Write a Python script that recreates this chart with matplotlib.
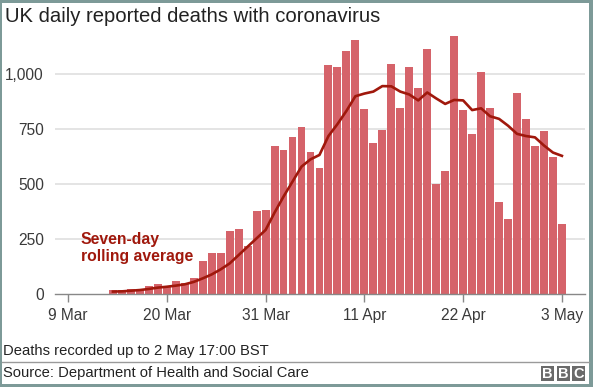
import matplotlib
matplotlib.use("Agg")
import matplotlib.pyplot as plt
import matplotlib.dates as mdates
from matplotlib.patches import Rectangle
import pandas as pd
import datetime as dt

# ---- data ----
dates = pd.date_range("2020-03-14", "2020-05-03", freq="D")
daily_deaths = [18, 18, 23, 23, 36, 45, 33, 58, 49, 74,
                150, 185, 185, 285, 295, 217, 376, 382, 671, 653,
                715, 761, 644, 571, 1041, 1033, 1105, 1153, 839, 686,
                745, 1045, 844, 1030, 935, 1115, 500, 559, 1173, 836,
                729, 1008, 844, 420, 339, 912, 795, 674, 741, 623,
                317]
rolling_avg = [11, 12, 15, 18, 23, 29, 33, 38, 44, 55,
               71, 89, 112, 139, 177, 215, 253, 291, 370, 443,
               511, 579, 612, 632, 718, 772, 832, 899, 911, 920,
               945, 944, 920, 907, 880, 916, 889, 864, 882, 880,
               836, 844, 808, 796, 765, 728, 718, 712, 675, 643,
               628]
x_tick_dates = ["2020-03-09", "2020-03-20", "2020-03-31", "2020-04-11", "2020-04-22", "2020-05-03"]
x_tick_labels = ["9 Mar", "20 Mar", "31 Mar", "11 Apr", "22 Apr", "3 May"]
y_ticks = [0, 250, 500, 750, 1000]
y_tick_labels = ["0", "250", "500", "750", "1,000"]

title = "UK daily reported deaths with coronavirus"
line_label = "Seven-day\nrolling average"
note = "Deaths recorded up to 2 May 17:00 BST"
source = "Source: Department of Health and Social Care"

# ---- style ----
plt.rcParams["font.family"] = ["Liberation Sans", "DejaVu Sans"]
BAR = "#d5636a"
LINE = "#a0180c"
TXT = "#3a3a3a"

W, H = 593, 387
fig = plt.figure(figsize=(W / 100, H / 100), dpi=100)
fig.patch.set_facecolor("#7d9a98")
fig.add_artist(Rectangle((2 / W, 3 / H), 587 / W, 381 / H, transform=fig.transFigure,
                         facecolor="white", edgecolor="none", zorder=0))

ax_left, ax_right = 55, 585
ax_bottom, ax_top = 294, 30
ax = fig.add_axes([ax_left / W, (H - ax_bottom) / H, (ax_right - ax_left) / W, (ax_bottom - ax_top) / H])
ax.set_facecolor("none")

xd = mdates.date2num(dates)
ax.bar(xd, daily_deaths, width=0.88, color=BAR, zorder=2, linewidth=0)
ax.plot(xd, rolling_avg, color=LINE, lw=1.9, zorder=3, solid_joinstyle="round")

x0 = mdates.date2num(dt.datetime(2020, 3, 9))
ax.set_xlim(x0 - 1.45, x0 + 57.57)
ax.set_ylim(0, 1200)

ax.set_xticks([mdates.date2num(pd.Timestamp(d)) for d in x_tick_dates])
ax.set_xticklabels(x_tick_labels)
ax.set_yticks(y_ticks)
ax.set_yticklabels(y_tick_labels)
ax.tick_params(axis="x", length=6, width=1, color="#888888", pad=4, labelsize=11.2, labelcolor=TXT)
ax.tick_params(axis="y", length=0, pad=8, labelsize=11.2, labelcolor=TXT)

for s in ["top", "right", "left"]:
    ax.spines[s].set_visible(False)
ax.spines["bottom"].set_color("#888888")
ax.spines["bottom"].set_linewidth(1.0)
ax.spines["bottom"].set_zorder(4)

for v in y_ticks[1:]:
    ax.axhline(v, color="#dcdcdc", lw=1.1, zorder=1)

ax.text(x0 + 1.41, 283, line_label, color=LINE, fontsize=11.3, fontweight="bold",
        va="top", ha="left", linespacing=1.22, zorder=5)

fig.text(5 / W, 1 - 17 / H, title, fontsize=14.6, color="#222222", va="center", ha="left")
fig.text(3 / W, 1 - 351 / H, note, fontsize=10.6, color="#222222", va="center", ha="left")
fig.add_artist(plt.Line2D([2 / W, 589 / W], [1 - 362 / H, 1 - 362 / H], transform=fig.transFigure,
                          color="#9a9a9a", lw=1.0))
fig.text(3 / W, 1 - 373 / H, source, fontsize=10.6, color="#222222", va="center", ha="left")

# BBC blocks
bx = 541
for i, ch in enumerate("BBC"):
    x = bx + i * 15.5
    fig.add_artist(Rectangle((x / W, 1 - 381 / H), 13 / W, 15 / H, transform=fig.transFigure,
                             facecolor="#6a6a6a", edgecolor="none"))
    fig.text((x + 6.5) / W, 1 - 373.5 / H, ch, fontsize=10.5, fontweight="bold", color="white",
             ha="center", va="center")

fig.savefig("out.png", dpi=100, facecolor=fig.get_facecolor())
